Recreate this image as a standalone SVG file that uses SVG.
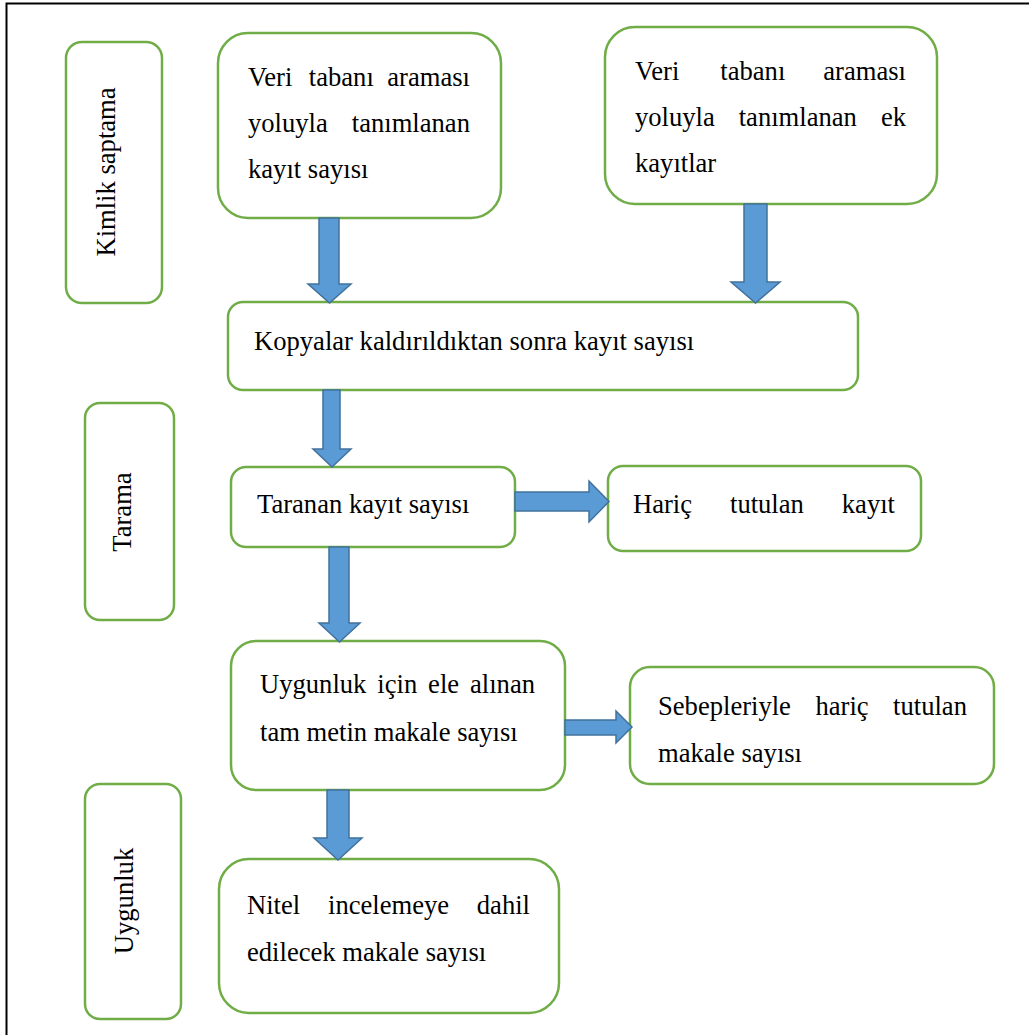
<svg xmlns="http://www.w3.org/2000/svg" width="1029" height="1035" viewBox="0 0 1029 1035">
<style>
.box{fill:#fff;stroke:#70AD47;stroke-width:2.5}
.arr{fill:#5B9BD5;stroke:#41719C;stroke-width:1.5;stroke-linejoin:miter}
.t{font-family:'Liberation Serif','Times New Roman','DejaVu Serif',serif;font-size:26.6px;fill:#000}
.frame{fill:none;stroke:#000;stroke-width:2}
</style>
<rect width="1029" height="1035" fill="#fff"/>
<path class="frame" d="M6.5,1035 V3.5 H1029"/>

<g id="label-kimlik">
<rect class="box" x="66" y="42" width="96" height="261" rx="16"/>
<text class="t" font-family="Liberation Serif, serif" transform="translate(115,172) rotate(-90)" text-anchor="middle">Kimlik saptama</text>
</g>
<g id="label-tarama">
<rect class="box" x="85" y="403" width="89" height="217" rx="15"/>
<text class="t" font-family="Liberation Serif, serif" transform="translate(131,512) rotate(-90)" text-anchor="middle">Tarama</text>
</g>
<g id="label-uygunluk">
<rect class="box" x="85" y="784" width="96" height="235" rx="15"/>
<text class="t" font-family="Liberation Serif, serif" transform="translate(133,901) rotate(-90)" text-anchor="middle">Uygunluk</text>
</g>

<g id="node-db">
<rect class="box" x="218" y="33" width="283" height="185" rx="30"/>
<text class="t" font-family="Liberation Serif, serif" y="86"><tspan x="248">Veri</tspan><tspan x="308.8">tabanı</tspan><tspan x="387.3">araması</tspan></text>
<text class="t" font-family="Liberation Serif, serif" y="132"><tspan x="248">yoluyla</tspan><tspan x="351.8">tanımlanan</tspan></text>
<text class="t" font-family="Liberation Serif, serif" x="248" y="178">kayıt sayısı</text>
</g>
<g id="node-ek">
<rect class="box" x="605" y="27" width="332" height="177" rx="30"/>
<text class="t" font-family="Liberation Serif, serif" y="80"><tspan x="635">Veri</tspan><tspan x="720.3">tabanı</tspan><tspan x="823.3">araması</tspan></text>
<text class="t" font-family="Liberation Serif, serif" y="126"><tspan x="635">yoluyla</tspan><tspan x="738.7">tanımlanan</tspan><tspan x="880.9">ek</tspan></text>
<text class="t" font-family="Liberation Serif, serif" x="635" y="172">kayıtlar</text>
</g>
<g id="node-kopya">
<rect class="box" x="228" y="302" width="630" height="88" rx="15"/>
<text class="t" font-family="Liberation Serif, serif" x="254" y="350">Kopyalar kaldırıldıktan sonra kayıt sayısı</text>
</g>
<g id="node-taranan">
<rect class="box" x="231" y="467" width="284" height="80" rx="15"/>
<text class="t" font-family="Liberation Serif, serif" x="257" y="513">Taranan kayıt sayısı</text>
</g>
<g id="node-haric">
<rect class="box" x="608" y="466" width="313" height="85" rx="15"/>
<text class="t" font-family="Liberation Serif, serif" y="513"><tspan x="633">Hariç</tspan><tspan x="730">tutulan</tspan><tspan x="841.8">kayıt</tspan></text>
</g>
<g id="node-uygunluk">
<rect class="box" x="231" y="641" width="334" height="149" rx="25"/>
<text class="t" font-family="Liberation Serif, serif" y="693"><tspan x="260">Uygunluk</tspan><tspan x="377.3">için</tspan><tspan x="428.1">ele</tspan><tspan x="470">alınan</tspan></text>
<text class="t" font-family="Liberation Serif, serif" x="260" y="741">tam metin makale sayısı</text>
</g>
<g id="node-sebep">
<rect class="box" x="630" y="667" width="364" height="117" rx="20"/>
<text class="t" font-family="Liberation Serif, serif" y="715"><tspan x="658">Sebepleriyle</tspan><tspan x="815.5">hariç</tspan><tspan x="893.1">tutulan</tspan></text>
<text class="t" font-family="Liberation Serif, serif" x="658" y="762">makale sayısı</text>
</g>
<g id="node-nitel">
<rect class="box" x="219" y="859" width="340" height="154" rx="30"/>
<text class="t" font-family="Liberation Serif, serif" y="914"><tspan x="247">Nitel</tspan><tspan x="328">incelemeye</tspan><tspan x="476.8">dahil</tspan></text>
<text class="t" font-family="Liberation Serif, serif" x="247" y="961">edilecek makale sayısı</text>
</g>

<g id="connectors">
<polygon class="arr" points="319,218 339,218 339,284 351,284 329.5,303 308,284 319,284"/>
<polygon class="arr" points="744,204 767,204 767,282 780,282 755.5,303 731,282 744,282"/>
<polygon class="arr" points="323,390 340,390 340,449 351,449 332,467 313,449 323,449"/>
<polygon class="arr" points="329,547 349,547 349,623 360,623 339.5,642 319,623 329,623"/>
<polygon class="arr" points="327,790 349,790 349,838 362,838 338,860 314,838 327,838"/>
<polygon class="arr" points="515,492 589,492 589,481 609,501.5 589,522 589,511 515,511"/>
<polygon class="arr" points="565,720 616,720 616,711 632,727 616,743 616,735 565,735"/>
</g>
</svg>
